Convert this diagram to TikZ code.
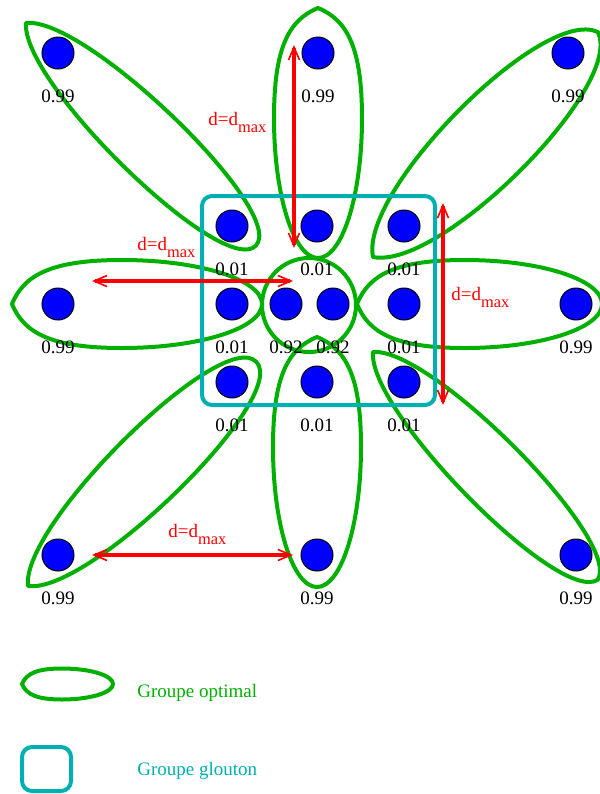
\documentclass[tikz,border=0pt]{standalone}
\usepackage{fontspec}
\setmainfont{Liberation Serif}
\usepackage{tikz}
\usetikzlibrary{arrows.meta}
\definecolor{grn}{HTML}{00B000}
\definecolor{tea}{HTML}{00B0B0}
\definecolor{rd}{HTML}{FF0000}
\definecolor{bl}{HTML}{0000FF}
% one optimal group: tip, angle, length, half width, tip and end shape
\newcommand{\grpetal}[6]{%
  \begin{scope}[shift={#1},rotate=#2]
    \draw[grp] (0,0) .. controls (#5*#3,1.333*#4) and (#3-#6*#3,1.333*#4) .. (#3,0)
      .. controls (#3-#6*#3,-1.333*#4) and (#5*#3,-1.333*#4) .. cycle;
  \end{scope}}
% fuller group with a pointed tip: tip, angle, length, half width
\newcommand{\grlobe}[4]{%
  \begin{scope}[shift={#1},rotate=#2]
    \draw[grp] (0,0) .. controls (0.048*#3,0.667*#4) and (0.16*#3,#4) .. (0.44*#3,#4)
      .. controls (0.749*#3,#4) and (#3,0.552*#4) .. (#3,0)
      .. controls (#3,-0.552*#4) and (0.749*#3,-#4) .. (0.44*#3,-#4)
      .. controls (0.16*#3,-#4) and (0.048*#3,-0.667*#4) .. cycle;
  \end{scope}}
\newcommand{\dmaxlbl}{d=d\raisebox{-3.5pt}{\fontsize{8.2}{9}\selectfont max}}

\begin{document}
\begin{tikzpicture}[x=0.5pt,y=-0.5pt,font=\fontsize{9.5}{11}\selectfont,
      dot/.style={circle,draw=black,fill=bl,line width=0.5pt,
                  minimum size=16pt,inner sep=0pt},
      lbl/.style={anchor=base,inner sep=0pt},
      grp/.style={draw=grn,line width=2pt,line join=round},
      glt/.style={draw=tea,line width=2pt,rounded corners=5pt},
      dm/.style={draw=rd,line width=2pt,
                 {Straight Barb[length=6.5pt,width=5.5pt,line width=0.8pt]}-{Straight Barb[length=6.5pt,width=5.5pt,line width=0.8pt]}},
      dml/.style={rd,anchor=base west,inner sep=0pt}]
    \useasboundingbox (0,0) rectangle (600,794);
    % optimal groups
    \grlobe{(318,8)}{-90}{250}{44}
    \grlobe{(317,337)}{-90}{250}{44}
    \grlobe{(12,304)}{0}{250}{44}
    \grlobe{(357,304)}{0}{245}{44}
    \grpetal{(26,23)}{-44.1}{320}{35}{0.12}{0}
    \grpetal{(373,257)}{45}{318}{43}{0.12}{0.06}
    \grpetal{(373,352)}{-45.4}{320}{34}{0.12}{0.03}
    \grpetal{(28,586)}{44.5}{320}{37}{0.12}{0}
    \draw[grp] (309,305) circle[radius=23.5pt];
    % greedy group
    \draw[glt] (202,196) rectangle (435,405);
    % distances
    \coordinate (v1a) at (294,45);  \coordinate (v1b) at (294,248);
    \coordinate (h1a) at (92,281);  \coordinate (h1b) at (293,281);
    \coordinate (v2a) at (443,203); \coordinate (v2b) at (443,405);
    \coordinate (h2a) at (92,555);  \coordinate (h2b) at (293,555);
    \draw[dm] (v1a) -- (v1b);
    \draw[dm] (h1a) -- (h1b);
    \draw[dm] (v2a) -- (v2b);
    \draw[dm] (h2a) -- (h2b);
    \node[dml] (d1) at (208,125) {\dmaxlbl};
    \node[dml] (d2) at (137,250) {\dmaxlbl};
    \node[dml] (d3) at (451,300) {\dmaxlbl};
    \node[dml] (d4) at (168,537) {\dmaxlbl};
    % points
    \foreach \n/\x/\y/\v in {o1/58/53/0.99,o2/318/53/0.99,o3/568/53/0.99,
        o4/58/304/0.99,o5/576/304/0.99,o6/58/555/0.99,o7/317/555/0.99,
        o8/576/555/0.99,i1/232/226/0.01,i2/317/226/0.01,i3/404/226/0.01,
        i4/232/304/0.01,i5/404/304/0.01,i6/232/382/0.01,i7/317/382/0.01,
        i8/404/382/0.01,c1/286/304/0.92,c2/333/304/0.92}{
      \node[dot] (\n) at (\x,\y) {};
      \node[lbl] (\n l) at (\x,\y+49) {\v};}
    % legend
    \grlobe{(22,684)}{0}{91}{15.5}
    \draw[glt] (22,747) rectangle (71,791);
    \node[grn,anchor=base west,inner sep=0pt] (lg1) at (137,697) {Groupe optimal};
    \node[tea,anchor=base west,inner sep=0pt] (lg2) at (137,775) {Groupe glouton};
  \end{tikzpicture}
\end{document}
